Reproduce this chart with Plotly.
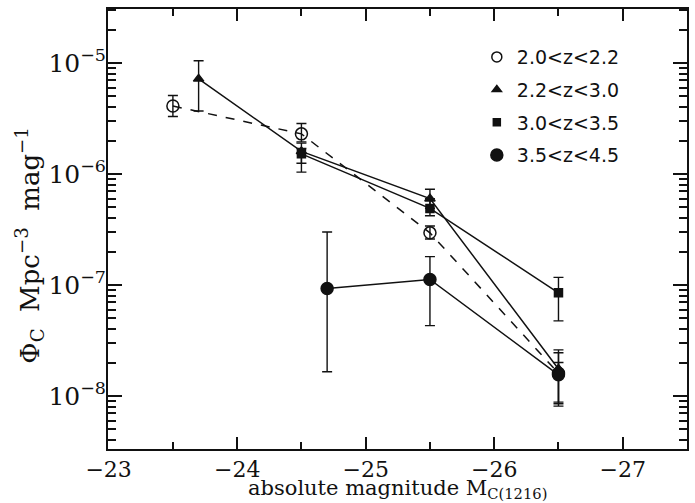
import plotly.graph_objects as go

# ---- data ----
labels = ["2.0<z<2.2", "2.2<z<3.0", "3.0<z<3.5", "3.5<z<4.5"]

x_a = [-23.5, -24.5, -25.5, -26.5]
y_a = [4.1e-6, 2.3e-6, 2.95e-7, 1.6e-8]
up_a = [5.1e-6, 2.85e-6, 3.4e-7, 2.45e-8]
lo_a = [3.3e-6, 1.95e-6, 2.6e-7, 8.5e-9]

x_b = [-23.7, -24.5, -25.5, -26.5]
y_b = [7.2e-6, 1.6e-6, 6.0e-7, 1.75e-8]
up_b = [1.05e-5, 1.9e-6, 7.3e-7, 2.6e-8]
lo_b = [3.7e-6, 1.25e-6, 4.9e-7, 8.8e-9]

x_c = [-24.5, -25.5, -26.5]
y_c = [1.52e-6, 4.9e-7, 8.5e-8]
up_c = [1.7e-6, 6.0e-7, 1.17e-7]
lo_c = [1.04e-6, 4.2e-7, 4.75e-8]

x_d = [-24.7, -25.5, -26.5]
y_d = [9.3e-8, 1.12e-7, 1.55e-8]
up_d = [3.0e-7, 1.8e-7, 2.0e-8]
lo_d = [1.65e-8, 4.3e-8, 8.1e-9]

x_ticks = [-23, -24, -25, -26, -27]
x_ticktext = ["\u221223", "\u221224", "\u221225", "\u221226", "\u221227"]
y_ticks = [1e-8, 1e-7, 1e-6, 1e-5]
y_ticktext = ["10<sup>\u22128</sup>", "10<sup>\u22127</sup>", "10<sup>\u22126</sup>", "10<sup>\u22125</sup>"]

BLACK = "#111111"
SERIF = "DejaVu Serif, serif"
NB = "\u00a0"

def errs(y, up, lo):
    return ([u - v for u, v in zip(up, y)], [v - l for v, l in zip(y, lo)])

fig = go.Figure()

series = [
    (x_a, y_a, up_a, lo_a, "circle-open", 12, "dash"),
    (x_b, y_b, up_b, lo_b, "triangle-up", 9, "solid"),
    (x_c, y_c, up_c, lo_c, "square", 8, "solid"),
    (x_d, y_d, up_d, lo_d, "circle", 12, "solid"),
]

for (xs, ys, up, lo, sym, sz, dash), lab in zip(series, labels):
    ep, em = errs(ys, up, lo)
    fig.add_trace(go.Scatter(
        x=xs, y=ys, mode="lines+markers", showlegend=False,
        line=dict(color=BLACK, width=1.5, dash=dash),
        marker=dict(symbol=sym, size=sz, color=BLACK,
                    line=dict(color=BLACK, width=1.5)),
        error_y=dict(type="data", symmetric=False, array=ep, arrayminus=em,
                     color=BLACK, thickness=1.4, width=5),
    ))

# legend-only entries
leg_sizes = [10, 8, 7, 12]
for i, ((xs, ys, up, lo, sym, sz, dash), lab) in enumerate(zip(series, labels)):
    fig.add_trace(go.Scatter(
        x=[None], y=[None], mode="markers", name=lab, legendgroup=str(i),
        marker=dict(symbol=sym, size=leg_sizes[i], color=BLACK,
                    line=dict(color=BLACK, width=1.5)),
    ))

axis_common = dict(
    showline=True, linecolor=BLACK, linewidth=2, mirror="allticks",
    ticks="inside", tickcolor=BLACK, tickwidth=1.5,
    showgrid=False, zeroline=False,
)

fig.update_xaxes(
    range=[-22.995, -27.5], tickvals=x_ticks, ticktext=x_ticktext, ticklen=12,
    tickfont=dict(family=SERIF, size=22, color=BLACK),
    minor=dict(ticks="inside", dtick=0.5, ticklen=7, tickcolor=BLACK, tickwidth=1.5, showgrid=False),
    **axis_common,
)
fig.update_yaxes(
    type="log", range=[-8.478, -4.513], tickvals=y_ticks, ticktext=y_ticktext, ticklen=14,
    tickfont=dict(family=SERIF, size=25, color=BLACK), ticklabelstandoff=-5,
    minor=dict(ticks="inside", dtick="D1", ticklen=8, tickcolor=BLACK, tickwidth=1.5, showgrid=False),
    **axis_common,
)

fig.update_layout(
    width=695, height=503,
    margin=dict(l=108, r=6, t=9, b=54),
    paper_bgcolor="white", plot_bgcolor="white",
    legend=dict(
        x=0.637, y=0.934, xanchor="left", yanchor="top",
        font=dict(family="DejaVu Sans", size=19, color=BLACK),
        bgcolor="rgba(0,0,0,0)", tracegroupgap=5, itemwidth=30,
    ),
    annotations=[
        dict(text="absolute magnitude M<sub>C(1216)</sub>", xref="paper", yref="paper",
             x=0.50, y=-0.092, showarrow=False, xanchor="center", yanchor="middle",
             font=dict(family=SERIF, size=21, color=BLACK)),
        dict(text="\u03a6<sub>C</sub>" + NB * 2 + "Mpc<sup>\u22123</sup>" + NB * 2 + "mag<sup>\u22121</sup>",
             xref="paper", yref="paper", x=-0.135, y=0.464, textangle=-90,
             showarrow=False, xanchor="center", yanchor="middle",
             font=dict(family=SERIF, size=26, color=BLACK)),
    ],
)

fig.write_html("out.html")
